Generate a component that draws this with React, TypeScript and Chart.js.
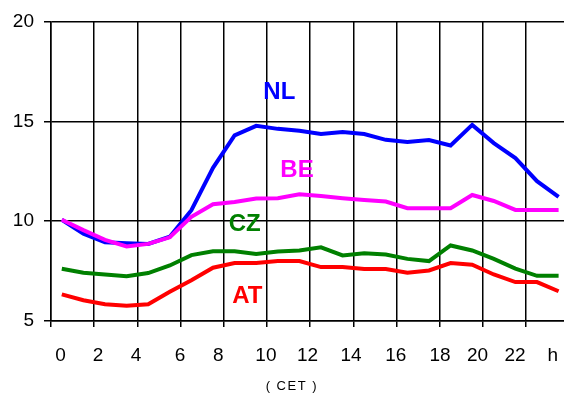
import React, { useEffect, useRef } from "react";
import { Chart, registerables } from "chart.js";

Chart.register(...registerables);

const HOURS = [0.5, 1.5, 2.5, 3.5, 4.5, 5.5, 6.5, 7.5, 8.5, 9.5, 10.5, 11.5, 12.5, 13.5, 14.5, 15.5, 16.5, 17.5, 18.5, 19.5, 20.5, 21.5, 22.5, 23.5];

const NL = [10.07, 9.37, 8.94, 8.89, 8.86, 9.22, 10.55, 12.67, 14.29, 14.77, 14.62, 14.52, 14.36, 14.46, 14.36, 14.07, 13.96, 14.06, 13.79, 14.82, 13.91, 13.16, 12.0, 11.21];
const BE = [10.07, 9.55, 9.06, 8.73, 8.86, 9.19, 10.22, 10.85, 10.96, 11.13, 11.15, 11.34, 11.26, 11.15, 11.06, 10.98, 10.65, 10.65, 10.65, 11.31, 11.01, 10.56, 10.56, 10.56];
const CZ = [7.62, 7.42, 7.33, 7.24, 7.4, 7.78, 8.3, 8.49, 8.49, 8.36, 8.48, 8.53, 8.69, 8.28, 8.39, 8.33, 8.11, 8.0, 8.78, 8.53, 8.11, 7.62, 7.26, 7.26];
const AT = [6.33, 6.04, 5.84, 5.76, 5.84, 6.46, 7.04, 7.67, 7.9, 7.9, 8.0, 8.0, 7.7, 7.7, 7.6, 7.6, 7.42, 7.53, 7.9, 7.82, 7.33, 6.95, 6.95, 6.49];

const X_GRID_VALUES = [0, 2, 4, 6, 8, 10, 12, 14, 16, 18, 20, 22];
const X_TICK_LABELS = ["0", "2", "4", "6", "8", "10", "12", "14", "16", "18", "20", "22", "h"];
const X_TICK_AT = [0.44, 2.18, 3.94, 5.97, 7.75, 9.95, 11.88, 13.89, 15.96, 18.01, 19.75, 21.48, 23.23];
const Y_TICK_VALUES = [5, 10, 15, 20];
const X_UNIT = "( CET )";

const SERIES = [
  { name: "NL", data: NL, color: "#0000FF", lx: 10.57, ly: 16.45 },
  { name: "BE", data: BE, color: "#FF00FF", lx: 11.39, ly: 12.53 },
  { name: "CZ", data: CZ, color: "#008000", lx: 8.97, ly: 9.82 },
  { name: "AT", data: AT, color: "#FF0000", lx: 9.09, ly: 6.24 },
];

const FONT = "'Liberation Sans', Arial, sans-serif";

export default function App() {
  const ref = useRef<HTMLCanvasElement | null>(null);
  useEffect(() => {
    if (!ref.current) return;
    const labelPlugin = {
      id: "seriesLabels",
      afterDraw(chart: any) {
        const ctx = chart.ctx;
        const xs = chart.scales.x;
        const ys = chart.scales.y;
        const bottom = chart.chartArea.bottom;
        ctx.save();
        ctx.textAlign = "center";
        ctx.textBaseline = "middle";
        ctx.font = `bold 24px ${FONT}`;
        SERIES.forEach((s) => {
          ctx.fillStyle = s.color;
          ctx.fillText(s.name, xs.getPixelForValue(s.lx), ys.getPixelForValue(s.ly));
        });
        ctx.fillStyle = "#000";
        ctx.font = `19px ${FONT}`;
        X_TICK_LABELS.forEach((t, i) => {
          ctx.fillText(t, xs.getPixelForValue(X_TICK_AT[i]), bottom + 35);
        });
        ctx.font = `13px ${FONT}`;
        (ctx as any).letterSpacing = "1.5px";
        ctx.fillText(X_UNIT, xs.getPixelForValue(11.15), bottom + 65);
        ctx.restore();
      },
    };
    const chart = new Chart(ref.current, {
      type: "line",
      data: {
        datasets: SERIES.map((s, i) => ({
          label: s.name,
          data: HOURS.map((h, j) => ({ x: h, y: s.data[j] })),
          borderColor: s.color,
          backgroundColor: s.color,
          borderWidth: 4,
          pointRadius: 0,
          tension: 0,
          fill: false,
          order: s.name === "BE" ? 0 : i + 1,
        })),
      },
      options: {
        responsive: false,
        animation: false,
        layout: { padding: { top: 19, right: 0, bottom: 0, left: 0 } },
        plugins: { legend: { display: false }, tooltip: { enabled: false } },
        scales: {
          x: {
            type: "linear",
            min: 0,
            max: 23.75,
            afterBuildTicks: (scale: any) => {
              scale.ticks = X_GRID_VALUES.map((v) => ({ value: v }));
            },
            afterFit: (scale: any) => {
              scale.height = 75;
            },
            ticks: { display: false, autoSkip: false, maxRotation: 0 },
            grid: { color: "#000", lineWidth: 1.5, tickLength: 6 },
            border: { color: "#000", width: 1.5 },
          },
          y: {
            type: "linear",
            min: 5,
            max: 20,
            afterBuildTicks: (scale: any) => {
              scale.ticks = Y_TICK_VALUES.map((v) => ({ value: v }));
            },
            afterFit: (scale: any) => {
              scale.width = 51;
            },
            ticks: {
              padding: 10,
              color: "#000",
              font: { family: FONT, size: 19 },
            },
            grid: { color: "#000", lineWidth: 1.5, tickLength: 7 },
            border: { color: "#000", width: 1.5 },
          },
        },
      },
      plugins: [labelPlugin],
    } as any);
    return () => chart.destroy();
  }, []);
  return (
    <div style={{ position: "absolute", left: 0, top: 0, width: 564, height: 396, background: "#fff" }}>
      <canvas ref={ref} width={564} height={396} style={{ display: "block" }} />
    </div>
  );
}
